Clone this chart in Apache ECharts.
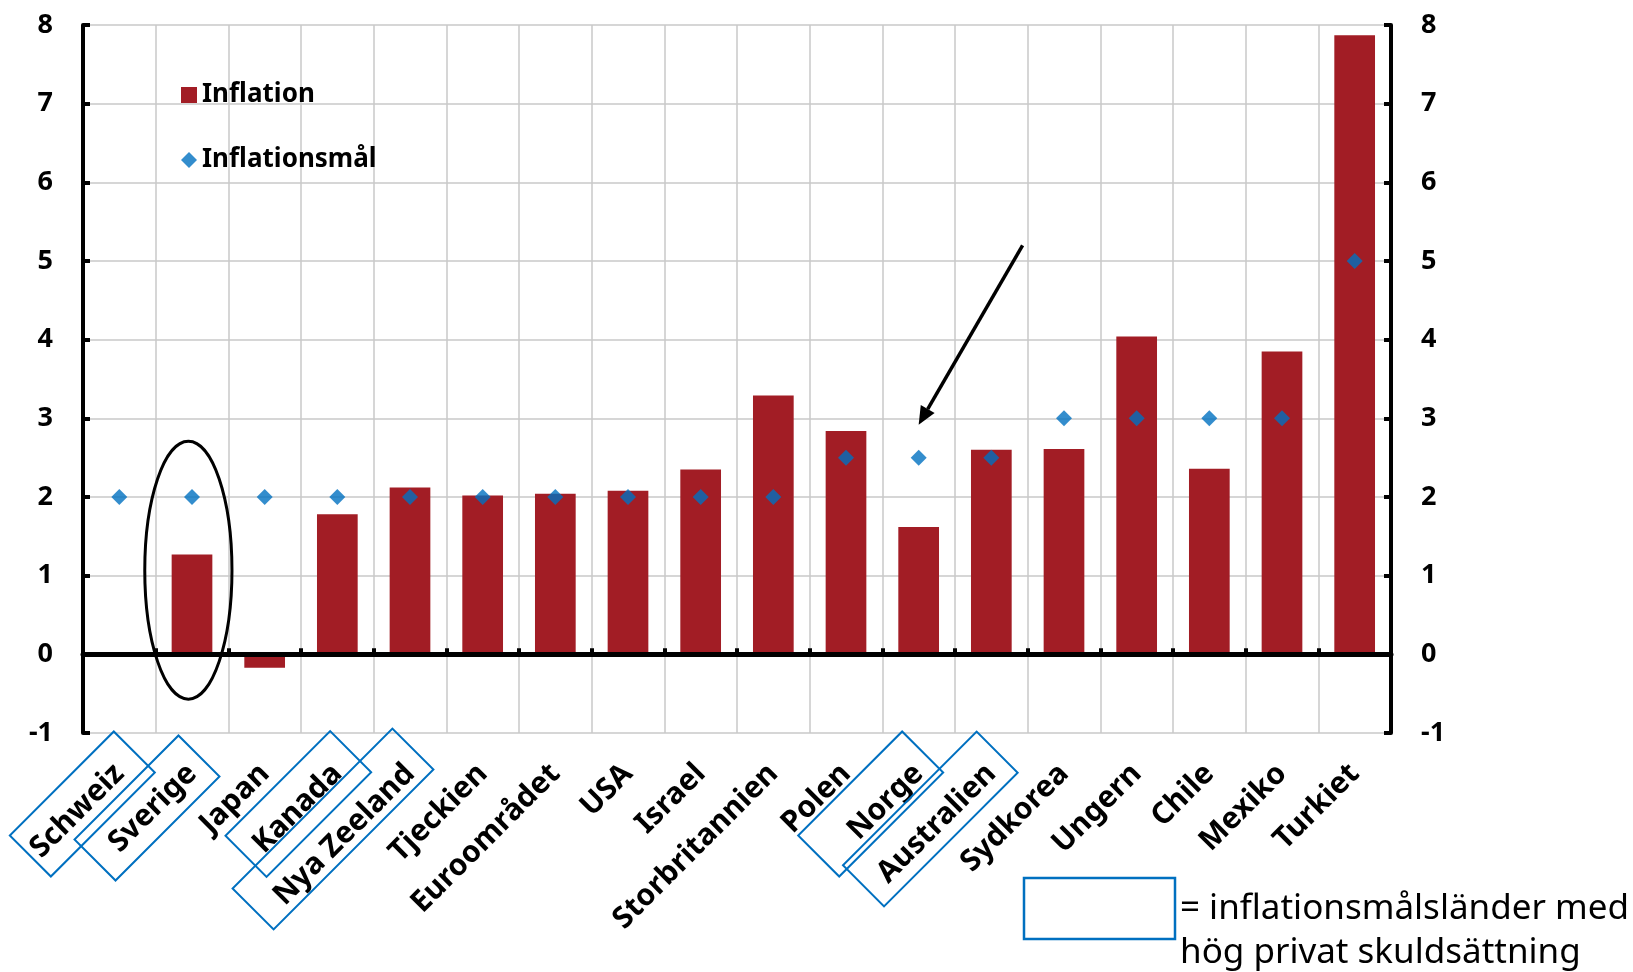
<!DOCTYPE html>
<html>
<head>
<meta charset="utf-8">
<script src="https://cdn.jsdelivr.net/npm/echarts@6/dist/echarts.min.js"></script>
<style>
  html, body { margin: 0; padding: 0; background: #fff; }
  #chart { width: 1633px; height: 972px; }
</style>
</head>
<body>
<div id="chart"></div>
<script>
const countries = ['Schweiz', 'Sverige', 'Japan', 'Kanada', 'Nya Zeeland', 'Tjeckien', 'Euroområdet', 'USA', 'Israel',
  'Storbritannien', 'Polen', 'Norge', 'Australien', 'Sydkorea', 'Ungern', 'Chile', 'Mexiko', 'Turkiet']
const inflation = [null, 1.27, -0.17, 1.78, 2.12, 2.02, 2.04, 2.08, 2.35, 3.29, 2.84, 1.62, 2.60, 2.61, 4.04, 2.36, 3.85, 7.87]
const inflationTarget = [2, 2, 2, 2, 2, 2, 2, 2, 2, 2, 2.5, 2.5, 2.5, 3, 3, 3, 3, 5]
const noteLines = ['= inflationsmålsländer med', 'hög privat skuldsättning']

// blue frames round the labels of high-debt inflation targeters (offsets in px from category centre at the bottom)
const framed = [
  { name: 'Schweiz', dx: -37, dy: 71, len: 147 },
  { name: 'Sverige', dx: -45, dy: 75, len: 147 },
  { name: 'Kanada', dx: -39, dy: 71, len: 148 },
  { name: 'Nya Zeeland', dx: -77, dy: 96, len: 226 },
  { name: 'Norge', dx: -48, dy: 71, len: 147 },
  { name: 'Australien', dx: -61, dy: 86, len: 189 }
]

const FONT = "'Noto Sans', 'DejaVu Sans', sans-serif"
const RED = '#A21D25'
const BLUE = '#0070C0'
const GRID = '#c8c8c8'

const chart = echarts.init(document.getElementById('chart'))

const valueAxis = (pos) => ({
  type: 'value',
  position: pos,
  min: -1,
  max: 8,
  interval: 1,
  axisLine: { show: true, lineStyle: { color: '#000', width: 4 } },
  axisTick: { show: true, inside: true, length: 7, lineStyle: { color: '#000', width: 4 } },
  axisLabel: { color: '#000', fontSize: 27, fontWeight: 'bold', fontFamily: FONT, margin: 30 },
  splitLine: { show: pos === 'left', lineStyle: { color: GRID, width: 1.5 } }
})

chart.setOption({
  animation: false,
  textStyle: { fontFamily: FONT },
  grid: { left: 83, right: 242, top: 25, bottom: 239, containLabel: false, outerBoundsMode: 'none' },
  legend: {
    orient: 'vertical',
    left: 176,
    top: 75,
    itemGap: 35,
    itemWidth: 16,
    itemHeight: 16,
    textStyle: { color: '#000', fontSize: 26, fontWeight: 'bold', fontFamily: FONT, lineHeight: 30 },
    data: [{ name: 'Inflation', icon: 'rect' }, { name: 'Inflationsmål', icon: 'diamond' }]
  },
  xAxis: [
    {
      type: 'category',
      data: countries,
      position: 'bottom',
      axisLine: { show: false },
      axisTick: { show: false },
      axisLabel: { interval: 0, rotate: 45, color: '#000', fontSize: 30, fontWeight: 'bold', fontFamily: FONT, margin: 36 },
      splitLine: { show: true, interval: 0, lineStyle: { color: GRID, width: 1.5 } }
    },
    {
      type: 'category',
      data: countries,
      position: 'top',
      z: 5,
      axisLine: { show: true, onZero: true, lineStyle: { color: '#000', width: 5 } },
      axisTick: { show: true, interval: 0, length: 6, lineStyle: { color: '#000', width: 4 } },
      axisLabel: { show: false },
      splitLine: { show: false }
    }
  ],
  yAxis: [valueAxis('left'), valueAxis('right')],
  series: [
    {
      name: 'Inflation',
      type: 'bar',
      data: inflation,
      barWidth: '56%',
      itemStyle: { color: RED }
    },
    {
      name: 'Inflationsmål',
      type: 'scatter',
      data: inflationTarget,
      symbol: 'diamond',
      symbolSize: 16,
      z: 4,
      itemStyle: { color: BLUE }
    }
  ]
})

// annotations placed through the axes (c = category index, fractional allowed)
const px = (i, v) => chart.convertToPixel({ gridIndex: 0 }, [i, v])
const x0 = px(0, 0)[0]
const band = px(1, 0)[0] - x0
const at = (c, v) => [x0 + c * band, px(0, v)[1]]
const yBottom = px(0, -1)[1]

const graphics = []

// ellipse round Sverige
const ec = at(0.95, 1.07)
graphics.push({
  type: 'ellipse',
  shape: { cx: ec[0], cy: ec[1], rx: band * 0.6, ry: ec[1] - at(0, 2.71)[1] },
  style: { fill: 'none', stroke: '#000', lineWidth: 3 },
  z: 10
})

// arrow pointing at Norge's target
const s = at(12.43, 5.2)
const t = at(11, 2.92)
const len = Math.hypot(t[0] - s[0], t[1] - s[1])
const d = [(t[0] - s[0]) / len, (t[1] - s[1]) / len]
const n = [-d[1], d[0]]
const base = [t[0] - d[0] * 18, t[1] - d[1] * 18]
graphics.push({
  type: 'line',
  shape: { x1: s[0], y1: s[1], x2: base[0], y2: base[1] },
  style: { stroke: '#000', lineWidth: 3.5 },
  z: 10
})
graphics.push({
  type: 'polygon',
  shape: { points: [t, [base[0] + n[0] * 8, base[1] + n[1] * 8], [base[0] - n[0] * 8, base[1] - n[1] * 8]] },
  style: { fill: '#000' },
  z: 10
})

// rotated frames round the labels
framed.forEach(f => {
  const i = countries.indexOf(f.name)
  graphics.push({
    type: 'rect',
    x: at(i, 0)[0] + f.dx,
    y: yBottom + f.dy,
    rotation: Math.PI / 4,
    shape: { x: -f.len / 2, y: -29, width: f.len, height: 58 },
    style: { fill: 'none', stroke: BLUE, lineWidth: 2 },
    z: 10
  })
})

// key box at bottom right
graphics.push({
  type: 'rect',
  shape: { x: 1024, y: 878, width: 151, height: 61 },
  style: { fill: 'none', stroke: BLUE, lineWidth: 2.5 },
  z: 10
})
noteLines.forEach((line, k) => {
  graphics.push({
    type: 'text',
    x: 1180,
    y: 909 + k * 44,
    style: { text: line, fontSize: 35, fontFamily: FONT, fill: '#000', verticalAlign: 'middle', align: 'left' },
    z: 10
  })
})

chart.setOption({ graphic: graphics })
</script>
</body>
</html>
